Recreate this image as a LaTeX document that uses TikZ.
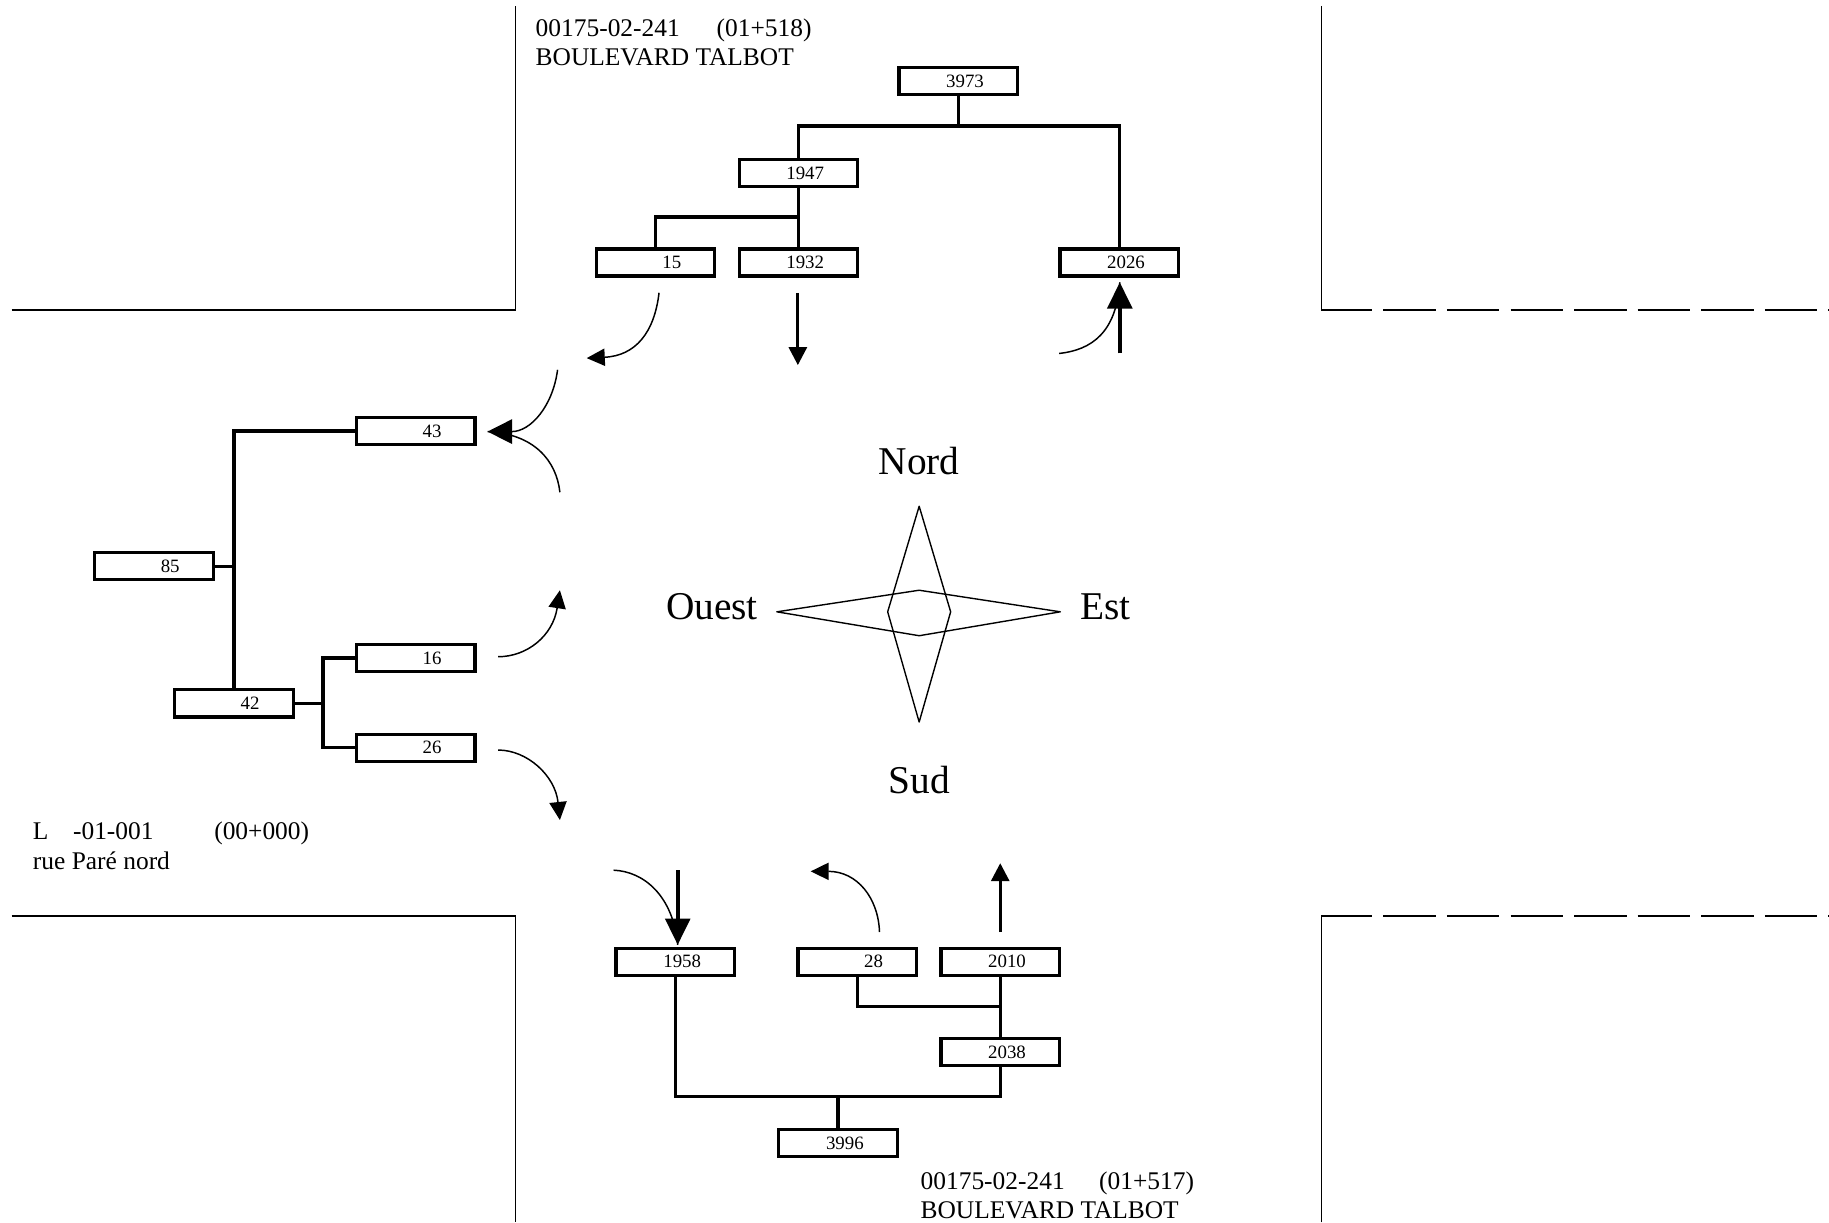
\documentclass[tikz,border=0pt]{standalone}
\usepackage{fontspec}
\setmainfont{Liberation Serif}
\usetikzlibrary{arrows.meta}

\begin{document}
\begin{tikzpicture}[
  x=0.025cm, y=-0.025cm,
  road/.style={line width=1pt},
  roadgap/.style={road, dash pattern=on 32pt off 6.75pt},
  volume/.style={draw, line width=2pt, text width=1.1cm, inner xsep=0.72cm, inner ysep=0pt,
    minimum height=0.58cm, align=right, font=\fontsize{11.5}{13}\selectfont},
  branch/.style={line width=2pt},
  street/.style={anchor=base west, inner sep=0pt, font=\fontsize{15.5}{17.4}\selectfont},
  cardinal/.style={anchor=base, inner sep=0pt, font=\fontsize{24}{28}\selectfont},
  compass/.style={line width=0.85pt, line join=round},
  swing/.style={line width=0.9pt},
  swingarrow/.style={swing, -{Triangle[length=11pt, width=10.5pt]}},
  bigswing/.style={swing, -{Triangle[length=15pt, width=15pt]}},
  thru/.style={line width=1.8pt, -{Triangle[length=11pt, width=11pt]}},
  bigthru/.style={line width=2.4pt, -{Triangle[length=16pt, width=15pt]}}
]
\useasboundingbox (0,0) rectangle (1568,1048);

\draw[road] (10,266) -- (442,266) -- (442,5);
\draw[road] (1133,5) -- (1133,266) -- (1176,266);
\draw[roadgap] (1186,266) -- (1568,266);
\draw[road] (10,785) -- (442,785) -- (442,1048);
\draw[road] (1133,1048) -- (1133,785) -- (1176,785);
\draw[roadgap] (1186,785) -- (1568,785);

\node[volume] (v3973) at (821.5,69.5) {3973};
\node[volume] (v1947) at (684.5,148.5) {1947};
\node[volume] (v15) at (562,225) {15};
\node[volume] (v1932) at (684.5,225) {1932};
\node[volume] (v2026) at (959.5,225) {2026};

\node[volume] (v43) at (356.5,369.5) {43};
\node[volume] (v85) at (132,485.5) {85};
\node[volume] (v16) at (356.5,564) {16};
\node[volume] (v42) at (200.5,603) {42};
\node[volume] (v26) at (356.5,641) {26};

\node[volume] (v1958) at (579,824.5) {1958};
\node[volume] (v28) at (735,824.5) {28};
\node[volume] (v2010) at (857.5,824.5) {2010};
\node[volume] (v2038) at (857.5,902) {2038};
\node[volume] (v3996) at (718.5,980) {3996};

\coordinate (j3973) at (821.5,108);
\draw[branch] (v3973.south) -- (j3973);
\draw[branch] (v1947.north) |- (j3973) -| (v2026.north);
\coordinate (j1947) at (684.5,186);
\draw[branch] (v1947.south) -- (v1932.north);
\draw[branch] (v15.north) |- (j1947);

\draw[branch] (v43.west) -| (v42.north);
\draw[branch] (v85.east) -- (v85.east -| v42.north);
\coordinate (j42) at (277,603);
\draw[branch] (v42.east) -- (j42);
\draw[branch] (v16.west) -| (j42);
\draw[branch] (v26.west) -| (j42);

\coordinate (j3996) at (718.5,940);
\draw[branch] (v1958.south) |- (j3996) -| (v2038.south);
\draw[branch] (v3996.north) -- (j3996);
\coordinate (j2038) at (857.5,863);
\draw[branch] (v2010.south) -- (v2038.north);
\draw[branch] (v28.south) |- (j2038);

\coordinate (n15a) at (565,251);
\coordinate (n15b) at (503,307);
\draw[swingarrow] (n15a) .. controls (561,285) and (545,305) .. (n15b);
\coordinate (n1932a) at (684,251);
\coordinate (n1932b) at (684,313);
\draw[thru] (n1932a) -- (n1932b);
\coordinate (n2026a) at (960,303);
\coordinate (n2026b) at (960,242);
\coordinate (n2026c) at (908,303);
\draw[swing] (n2026c) .. controls (936,300) and (957,285) .. (n2026b);
\draw[bigthru] (n2026a) -- (n2026b);

\coordinate (w43a) at (478,317);
\coordinate (w43b) at (418,370);
\coordinate (w43c) at (480,422);
\draw[bigswing] (w43a) .. controls (474,348) and (455,370) .. (w43b);
\draw[swing] (w43c) .. controls (477,395) and (458,372) .. (w43b);
\coordinate (w16a) at (427,563);
\coordinate (w16b) at (480,506);
\draw[swingarrow] (w16a) .. controls (452,563) and (474,545) .. (w16b);
\coordinate (w26a) at (427,643);
\coordinate (w26b) at (480,703);
\draw[swingarrow] (w26a) .. controls (452,643) and (476,665) .. (w26b);

\coordinate (s1958a) at (581,746);
\coordinate (s1958b) at (581,810);
\coordinate (s1958c) at (526,746);
\draw[swing] (s1958c) .. controls (552,747) and (577,768) .. (s1958b);
\draw[bigthru] (s1958a) -- (s1958b);
\coordinate (s28a) at (754,799);
\coordinate (s28b) at (695,747);
\draw[swingarrow] (s28a) .. controls (753,770) and (735,747) .. (s28b);
\coordinate (s2010a) at (857.5,799);
\coordinate (s2010b) at (857.5,740);
\draw[thru] (s2010a) -- (s2010b);

\draw[compass] (788,434) -- (815,524.5) -- (788,619) -- (761,524.5) -- cycle;
\draw[compass] (666,524.5) -- (788,506) -- (909,524.5) -- (788,545) -- cycle;
\node[cardinal] (nord) at (788,407) {Nord};
\node[cardinal] (sud) at (788,680) {Sud};
\node[cardinal, anchor=base east] (ouest) at (650,531.5) {Ouest};
\node[cardinal, anchor=base west] (est) at (926,531.5) {Est};

\node[street] (nroute) at (459,31.5) {00175-02-241\hspace{22.5pt}(01+518)};
\node[street] (nname) at (459,56) {BOULEVARD TALBOT};
\node[street] (sroute) at (789,1020) {00175-02-241\hspace{21pt}(01+517)};
\node[street] (sname) at (789,1045) {BOULEVARD TALBOT};
\node[street] (wroute) at (28,720) {L\hspace{15pt}-01-001\hspace{37pt}(00+000)};
\node[street] (wname) at (28,745) {rue Paré nord};

\end{tikzpicture}
\end{document}
